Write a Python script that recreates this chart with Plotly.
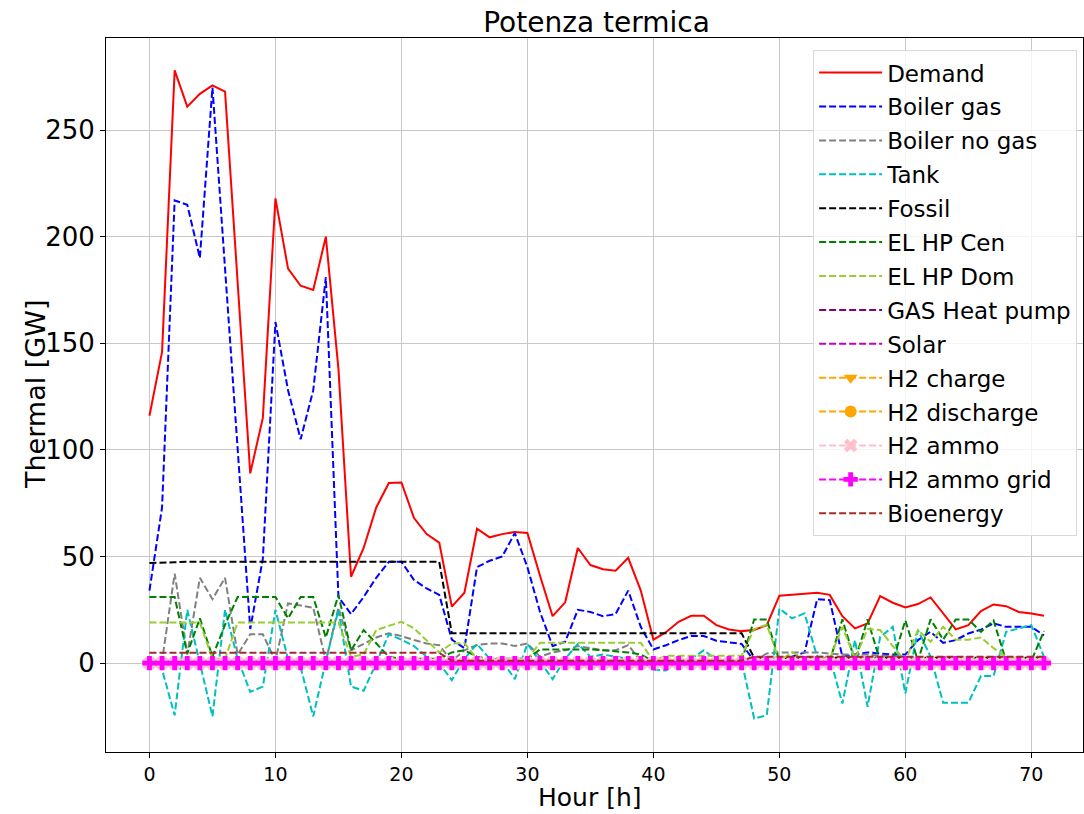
import plotly.graph_objects as go

hours = list(range(72))

demand = [116, 146, 278, 261, 267, 271, 268, 180, 89, 115, 218, 185, 177, 175, 200, 138,
          40.5, 54, 73, 84.5, 84.7, 68, 60.5, 56.5, 26.5, 33, 63, 59, 60.5, 61.5, 61, 41,
          22, 28.5, 54, 46, 44, 43.3, 49.4, 34, 11, 14.5, 19.4, 22.2, 22.2, 17.8, 15.8, 15,
          15.5, 17.8, 31.6, 32, 32.5, 33, 32, 22, 16.3, 18.6, 31.4, 28.3, 26.1, 27.7, 30.8, 23.3,
          15.8, 17.8, 24.4, 27.5, 26.7, 24, 23.3, 22.2]

boiler_gas = [34, 73, 217, 215, 190, 270, 185, 100, 16, 49, 160, 128, 105, 128, 181, 31,
              23, 31, 40, 47.5, 47.5, 39, 35, 32, 11, 7, 45, 48, 50, 61, 45, 24,
              8, 10, 25, 24, 22, 23, 34, 17, 6.4, 8.4, 10.8, 12.7, 12.7, 10.5, 9.8, 9,
              1, 1, 2, 3, 5, 30, 29.5, 3, 4, 5, 4.5, 4, 4, 10.8, 14.7, 9.5,
              10.8, 13.9, 15.7, 18.6, 17, 17, 17, 13]

boiler_no_gas = [0, 1, 42, 4, 40, 30, 40, 4, 13.5, 13.5, 1, 28, 27, 26, 1, 26,
                 6, 9, 12, 14, 12.7, 10.8, 9.2, 8.4, 1, 6, 8.5, 9.2, 9.2, 8, 9.2, 3,
                 5, 6, 8, 7, 6, 6, 8.4, 1, 0.5, 0.5, 0.5, 0.5, 0.5, 0.5, 0.5, 0.5,
                 1, 4.5, 5, 5, 5, 5, 4.5, 4, 4, 4, 3.5, 3.5, 2, 1.5, 1.5, 1,
                 1, 1.5, 2, 1.5, 1, 1, 1, 1]

tank = [2, -3, -24.5, 25, 0, -25, 25, 2, -13.5, -11, 25, 2, -2, -25, 1, 25,
        -11, -13, 0, 13.5, 11, 8, 3, 0, -8, 2, 9, 2, 1, -7.5, 9, 1,
        -7.5, 2, 9, 3, 4, 3, 2, 1, -3, -3.5, 1, 2, 6, 1.5, 1.5, 1,
        -26, -24.4, 25.6, 21, 23.3, 3, 3, -19, 10.8, -20.5, 12.3, 17, -14.2, 15.5, 3, -18.6,
        -18.6, -18.6, -6.1, -6.1, 14.7, 16.4, 17.8, 3]

fossil = [47, 47, 47.3, 47.5, 47.5, 47.5, 47.5, 47.5, 47.5, 47.5, 47.5, 47.5, 47.5, 47.5, 47.5, 47.5,
          47.2, 47.2, 47.2, 47.3, 47.3, 47.3, 47.5, 47.5, 14, 14, 14, 14, 14, 14, 14, 14,
          14, 14, 14, 14, 14, 14, 14, 14, 14, 14, 14, 14, 14, 14, 14, 14,
          2.5, 2.5, 2.5, 2.5, 2.5, 2.5, 2.5, 2.5, 2.5, 2.5, 2.5, 2.5, 2.5, 2.5, 2.5, 2.5,
          2.5, 2.5, 2.5, 2.5, 2.5, 2.5, 2.5, 2.5]

el_hp_cen = [31, 31, 31, 4.5, 21, 3, 18, 31, 31, 31, 31, 21, 31, 31, 12, 32,
             6, 15.5, 9, 3, 2, 2, 2, 2, 5, 6, 3, 2, 2, 2, 2, 6.4,
             6.4, 6.4, 6.4, 6.4, 6, 5.5, 5, 4, 1, 1, 1, 1, 1, 1, 1, 1,
             20.5, 20.5, 1, 1, 1, 1, 1, 20.5, 1, 20.5, 1, 1, 20, 1, 20.5, 11,
             20.5, 20.5, 14.7, 20, 1, 1, 1, 15]

el_hp_dom = [19, 19, 19, 19, 19, 2, 2, 19, 19, 19, 19, 19, 19, 19, 19, 19,
             3, 4, 15.5, 17.5, 19.4, 16.3, 10.8, 5, 9.2, 9.4, 2, 2, 2, 2, 2, 9.5,
             9.5, 9.5, 9.5, 9.5, 9.5, 9.5, 9.5, 9.5, 1, 3.5, 3.5, 3.5, 3.5, 3.5, 3.5, 3.5,
             16, 18, 1, 5, 2, 2, 2, 17, 2, 16, 15.5, 8, 1, 15.5, 10, 17,
             11, 11, 12, 7, 3, 2, 2, 2]

gas_heat_pump = [0] * 72
solar = [0] * 72
h2_charge = [0] * 72
h2_discharge = [0] * 72
h2_ammo = [0] * 72
h2_ammo_grid = [0] * 72

bioenergy = [4.8] * 24 + [1.1] * 24 + [3] * 24

DASH = "7px,3px"

series = [
    ("Demand", demand, "#FF0000", "solid", None),
    ("Boiler gas", boiler_gas, "#0000FF", DASH, None),
    ("Boiler no gas", boiler_no_gas, "#808080", DASH, None),
    ("Tank", tank, "#00BFBF", DASH, None),
    ("Fossil", fossil, "#000000", DASH, None),
    ("EL HP Cen", el_hp_cen, "#008000", DASH, None),
    ("EL HP Dom", el_hp_dom, "#9ACD32", DASH, None),
    ("GAS Heat pump", gas_heat_pump, "#800080", DASH, None),
    ("Solar", solar, "#BF00BF", DASH, None),
    ("H2 charge", h2_charge, "#FFA500", DASH, "triangle-down"),
    ("H2 discharge", h2_discharge, "#FFA500", DASH, "circle"),
    ("H2 ammo", h2_ammo, "#FFC0CB", DASH, "x"),
    ("H2 ammo grid", h2_ammo_grid, "#FF00FF", DASH, "cross"),
    ("Bioenergy", bioenergy, "#A52A2A", DASH, None),
]

fig = go.Figure()
for i, (name, vals, color, dash, symbol) in enumerate(series):
    kw = dict(mode="lines")
    if symbol:
        kw["mode"] = "lines+markers"
        kw["marker"] = dict(symbol=symbol, size=12, color=color, line=dict(width=0))
    fig.add_trace(go.Scatter(
        x=hours, y=vals, name=name, legendgroup=f"g{i}",
        line=dict(color=color, width=2, dash=dash), **kw))

FONT = "DejaVu Sans, Liberation Sans, sans-serif"

fig.update_layout(
    width=1084, height=814, autosize=False,
    margin=dict(l=106, r=1, t=38, b=62),
    paper_bgcolor="white", plot_bgcolor="white",
    font=dict(family=FONT, color="black"),
    title=dict(text="Potenza termica", x=0.5503, xanchor="center",
               y=1 - 22 / 814, yanchor="middle", yref="container",
               font=dict(size=28, color="black")),
    showlegend=True,
    legend=dict(x=0.994, y=0.983, xanchor="right", yanchor="top",
                bgcolor="rgba(255,255,255,0.8)", bordercolor="#d9d9d9", borderwidth=1,
                font=dict(size=23), tracegroupgap=1, itemwidth=63,
                traceorder="grouped"),
    xaxis=dict(range=[-3.45, 74.1], tickvals=list(range(0, 71, 10)),
               showgrid=True, gridcolor="#c8c8c8", gridwidth=1,
               showline=True, mirror=True, linecolor="black", linewidth=1,
               ticks="outside", ticklen=5, tickcolor="black",
               tickfont=dict(size=19), zeroline=False),
    yaxis=dict(range=[-41.7, 293.2], tickvals=[0, 50, 100, 150, 200, 250],
               showgrid=True, gridcolor="#c8c8c8", gridwidth=1,
               showline=True, mirror=True, linecolor="black", linewidth=1,
               ticks="outside", ticklen=5, tickcolor="black",
               tickfont=dict(size=26), zeroline=False),
    annotations=[
        dict(text="Hour [h]", xref="paper", yref="paper", x=0.5, y=0,
             xshift=-5, yshift=-45, yanchor="middle", showarrow=False,
             font=dict(size=25)),
        dict(text="Thermal [GW]", xref="paper", yref="paper", x=0, y=0.5,
             xshift=-71, xanchor="center", textangle=-90, showarrow=False,
             font=dict(size=27)),
    ],
)

fig.write_html("out.html")
